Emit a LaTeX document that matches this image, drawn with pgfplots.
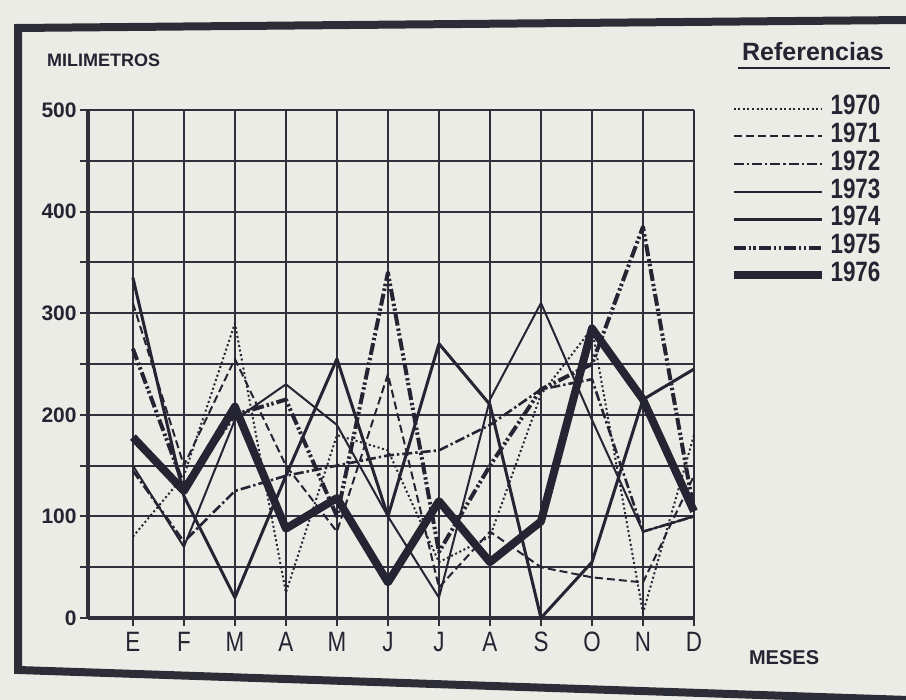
\documentclass[border=0pt]{standalone}
\usepackage{pgfplots}
\pgfplotsset{compat=1.18}
\usepackage{fontspec}
\setmainfont{Liberation Sans}
\newfontfamily\condf[FakeStretch=0.8]{Liberation Sans}
\definecolor{ink}{RGB}{36,36,50}
\definecolor{paper}{RGB}{236,236,231}
\definecolor{gridc}{RGB}{48,48,60}
\definecolor{framec}{RGB}{45,45,55}
\begin{document}
\begin{tikzpicture}
\path[use as bounding box] (0,0) rectangle (453pt,350pt);
\fill[paper] (0,0) rectangle (453pt,350pt);
% photographed page frame
\draw[framec, line width=4pt, line join=miter] (454pt,340pt) -- (9pt,336pt) -- (9pt,15pt) -- (454pt,0pt);
% titles
\node[anchor=west, font=\fontsize{9}{10}\selectfont\bfseries, text=ink] at (20pt,320pt) {MILIMETROS};
\node[anchor=west, font=\fontsize{10}{11}\selectfont\bfseries, text=ink] at (371pt,21pt) {MESES};
\node[anchor=center, font=\fontsize{12.5}{14}\selectfont\bfseries, text=ink] at (406.5pt,324pt) {Referencias};
\draw[ink, line width=1.1pt] (369pt,316pt) -- (445pt,316pt);
\begin{axis}[
  at={(44pt,41pt)}, anchor=south west,
  scale only axis, width=303pt, height=254pt,
  xmin=0.12, xmax=12, ymin=0, ymax=500,
  axis lines*=left,
  axis line style={gridc, line width=1.8pt},
  xtick={1,...,12},
  xticklabels={E,F,M,A,M,J,J,A,S,O,N,D},
  ytick={0,100,...,500},
  minor ytick={50,150,...,450},
  grid=both,
  major grid style={gridc, line width=1pt},
  minor grid style={gridc, line width=1pt},
  tick align=outside,
  major tick length=4pt, minor tick length=4pt,
  every tick/.style={gridc, line width=1pt},
  /pgf/number format/assume math mode=true,
  yticklabel style={font=\fontsize{10.5}{12}\selectfont\bfseries, text=ink, inner xsep=1.5pt},
  xticklabel style={font=\condf\fontsize{14}{15}\selectfont, text=ink, inner ysep=3pt},
  clip=false,
  legend style={at={(1.058,1.031)}, anchor=north west, draw=none, fill=none,
    inner sep=0pt, row sep=0pt,
    font=\condf\fontsize{14}{15}\selectfont\bfseries, text=ink,
    nodes={inner ysep=0pt, inner xsep=2.5pt, text height=10pt, text depth=3.9pt}},
  legend cell align=left,
  legend image code/.code={\draw[#1] (0pt,0pt) -- (44pt,0pt);},
  every axis plot/.append style={ink, line join=round},
]
% 1970 dotted
\addplot[line width=1pt, dash pattern=on 1pt off 1.3pt] coordinates {
(1,80) (2,140) (3,290) (4,25) (5,180) (6,165) (7,55) (8,80) (9,220) (10,285) (11,5) (12,180)};
\addlegendentry{1970}
% 1971 dashed
\addplot[line width=1pt, dash pattern=on 4pt off 2pt] coordinates {
(1,310) (2,150) (3,255) (4,150) (5,85) (6,240) (7,30) (8,85) (9,50) (10,40) (11,35) (12,140)};
\addlegendentry{1971}
% 1972 dash-dot
\addplot[line width=1.3pt, dash pattern=on 5pt off 1.5pt on 1.2pt off 1.5pt] coordinates {
(1,145) (2,75) (3,125) (4,140) (5,150) (6,160) (7,165) (8,190) (9,225) (10,235) (11,85) (12,100)};
\addlegendentry{1972}
% 1973 thin solid
\addplot[line width=1pt] coordinates {
(1,150) (2,70) (3,195) (4,230) (5,190) (6,100) (7,20) (8,215) (9,310) (10,195) (11,85) (12,100)};
\addlegendentry{1973}
% 1974 solid
\addplot[line width=1.5pt] coordinates {
(1,335) (2,120) (3,20) (4,140) (5,255) (6,100) (7,270) (8,210) (9,0) (10,55) (11,215) (12,245)};
\addlegendentry{1974}
% 1975 heavy dash-dot-dot
\addplot[line width=2pt, dash pattern=on 6pt off 1.5pt on 1.2pt off 1.2pt on 1.2pt off 1.5pt] coordinates {
(1,265) (2,130) (3,200) (4,215) (5,100) (6,340) (7,65) (8,150) (9,225) (10,250) (11,385) (12,105)};
\addlegendentry{1975}
% 1976 heavy solid
\addplot[line width=4pt] coordinates {
(1,178) (2,125) (3,208) (4,88) (5,118) (6,35) (7,115) (8,55) (9,95) (10,285) (11,215) (12,105)};
\addlegendentry{1976}
\end{axis}
\end{tikzpicture}
\end{document}
